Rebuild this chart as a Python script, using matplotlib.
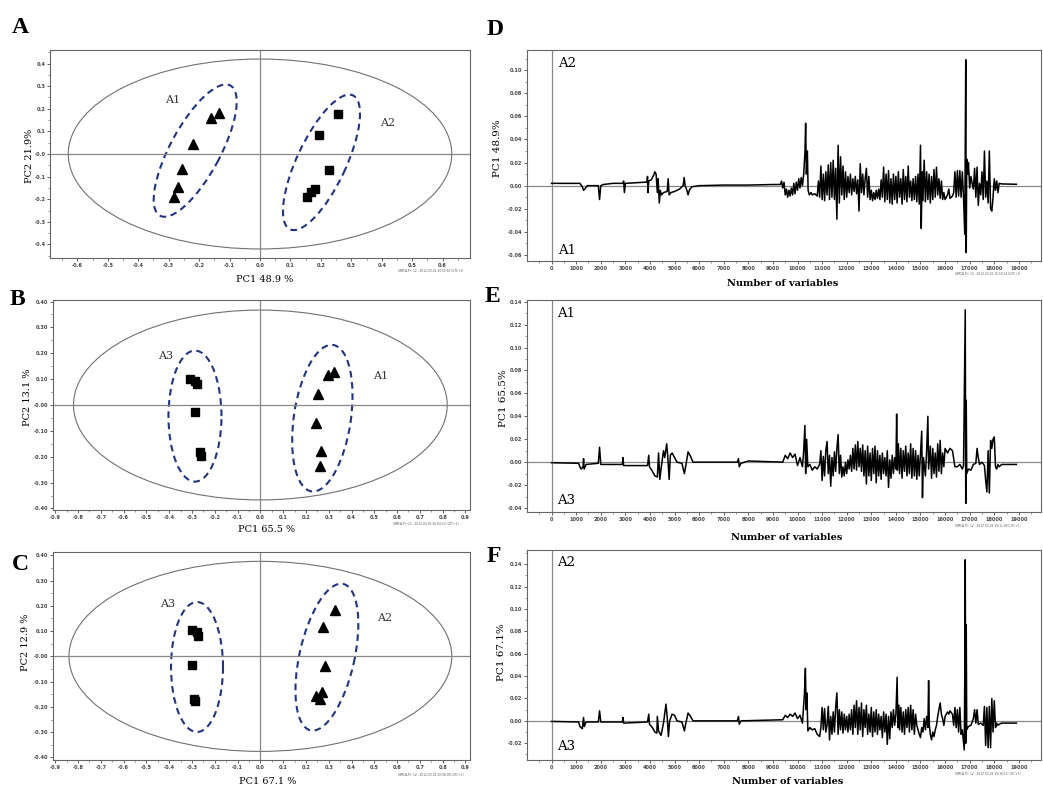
import matplotlib
matplotlib.use("Agg")
import matplotlib.pyplot as plt
from matplotlib.patches import Ellipse
from matplotlib.transforms import ScaledTranslation

W, H = 1043, 787

# ===============================
# Score plots (A, B, C)
# ===============================
a_tri_x = [-0.134, -0.162, -0.221, -0.257, -0.268, -0.284]
a_tri_y = [0.182, 0.160, 0.046, -0.067, -0.147, -0.191]
a_sq_x = [0.257, 0.193, 0.226, 0.180, 0.169, 0.155]
a_sq_y = [0.179, 0.084, -0.070, -0.154, -0.170, -0.191]
a_t2 = [0.63, 0.42]

b_sq_x = [-0.310, -0.287, -0.279, -0.287, -0.265, -0.262]
b_sq_y = [0.100, 0.092, 0.080, -0.028, -0.180, -0.198]
b_tri_x = [0.322, 0.298, 0.251, 0.246, 0.265, 0.261]
b_tri_y = [0.128, 0.115, 0.042, -0.070, -0.179, -0.236]
b_t2 = [0.82, 0.367]

c_sq_x = [-0.300, -0.278, -0.275, -0.300, -0.292, -0.289]
c_sq_y = [0.103, 0.096, 0.079, -0.036, -0.167, -0.178]
c_tri_x = [0.329, 0.275, 0.285, 0.270, 0.246, 0.260]
c_tri_y = [0.184, 0.118, -0.039, -0.141, -0.155, -0.170]
c_t2 = [0.84, 0.376]

a_xticks = [-0.6, -0.5, -0.4, -0.3, -0.2, -0.1, 0.0, 0.1, 0.2, 0.3, 0.4, 0.5, 0.6]
a_xlabels = ["-0.6", "-0.5", "-0.4", "-0.3", "-0.2", "-0.1", "0.0", "0.1", "0.2", "0.3", "0.4", "0.5", "0.6"]
a_yticks = [-0.4, -0.3, -0.2, -0.1, 0.0, 0.1, 0.2, 0.3, 0.4]
a_ylabels = ["-0.4", "-0.3", "-0.2", "-0.1", "-0.0", "0.1", "0.2", "0.3", "0.4"]
bc_xticks = [-0.9, -0.8, -0.7, -0.6, -0.5, -0.4, -0.3, -0.2, -0.1, 0.0,
             0.1, 0.2, 0.3, 0.4, 0.5, 0.6, 0.7, 0.8, 0.9]
bc_xlabels = ["-0.9", "-0.8", "-0.7", "-0.6", "-0.5", "-0.4", "-0.3", "-0.2", "-0.1", "0.0",
              "0.1", "0.2", "0.3", "0.4", "0.5", "0.6", "0.7", "0.8", "0.9"]
bc_yticks = [-0.4, -0.3, -0.2, -0.1, 0.0, 0.1, 0.2, 0.3, 0.4]
bc_ylabels = ["-0.40", "-0.30", "-0.20", "-0.10", "-0.00", "0.10", "0.20", "0.30", "0.40"]

# ===============================
# Loading plots (D, E, F)
# ===============================
d_x = [0, 1150, 1250, 1300, 1350, 1450, 1900, 1950, 2000, 2100, 2500, 2900, 2930, 2960, 3000,
       3800, 3880, 3900, 3920, 3950, 4050, 4150, 4200, 4250, 4300, 4330, 4380, 4420, 4470,
       4550, 4700, 4740, 4780, 4850, 5000, 5200, 5350, 5390, 5430, 5500, 5550, 5600, 5700,
       6000, 7000, 8000, 9000, 9300, 9350, 9400, 9450, 9500, 9550, 9600, 9650, 9700, 9750,
       9800, 9850, 9900, 9950, 10000, 10050, 10100, 10150, 10200, 10250, 10300, 10330, 10360,
       10400, 10430, 10480, 10550, 10600, 10700, 10800, 10850, 10900, 10950, 11000, 11050,
       11100, 11150, 11200, 11250, 11300, 11350, 11400, 11450, 11500, 11550, 11600, 11650,
       11700, 11750, 11800, 11850, 11900, 11950, 12000, 12050, 12100, 12150, 12200, 12250,
       12300, 12350, 12400, 12450, 12500, 12550, 12600, 12650, 12700, 12750, 12800, 12850,
       12900, 12950, 13000, 13050, 13100, 13150, 13200, 13250, 13300, 13350, 13400, 13450,
       13500, 13550, 13600, 13650, 13700, 13750, 13800, 13850, 13900, 13950, 14000, 14050,
       14100, 14150, 14200, 14250, 14300, 14350, 14400, 14450, 14500, 14550, 14600, 14650,
       14700, 14750, 14800, 14850, 14900, 14950, 15000, 15030, 15070, 15100, 15150, 15200,
       15250, 15300, 15350, 15400, 15450, 15500, 15550, 15600, 15650, 15700, 15750, 15800,
       15850, 15900, 15950, 16000, 16100, 16150, 16200, 16300, 16350, 16400, 16450, 16500,
       16550, 16600, 16650, 16700, 16750, 16800, 16820, 16840, 16860, 16880, 16920, 16950,
       17000, 17050, 17100, 17150, 17200, 17250, 17300, 17350, 17400, 17450, 17500, 17550,
       17600, 17650, 17700, 17750, 17800, 17850, 17900, 17950, 18000, 18050, 18100, 18150,
       18200, 18300, 18900]
d_y = [0.002, 0.002, -0.001, -0.004, -0.003, 0.0, 0.0, -0.012, 0.0, 0.001, 0.002, 0.002, 0.004, -0.006, 0.002,
       0.003, 0.003, 0.008, -0.006, 0.004, 0.005, 0.009, 0.012, 0.010, -0.006, 0.006, -0.015, -0.004, -0.008,
       -0.006, -0.005, 0.006, -0.008, -0.006, -0.005, -0.003, 0.0, 0.007, 0.0, -0.004, -0.008, -0.004, -0.001,
       0.0, 0.0005, 0.0005, 0.001, 0.001, 0.004, -0.002, 0.003, -0.008, -0.003, -0.010, -0.004, -0.009, -0.002,
       -0.008, 0.002, -0.007, 0.003, -0.004, 0.006, -0.002, 0.007, 0.0, 0.010, 0.028, 0.054, 0.010,
       0.030, -0.004, -0.008, -0.006, -0.008, -0.007, -0.009, 0.004, -0.010, 0.017, -0.012, 0.010,
       -0.013, 0.012, -0.008, 0.018, -0.012, 0.020, -0.010, 0.022, -0.012, 0.015, -0.029, 0.035,
       -0.015, 0.025, -0.008, 0.017, -0.012, 0.012, -0.010, 0.008, -0.006, 0.010, -0.008, 0.006,
       -0.005, 0.008, -0.007, 0.005, -0.022, 0.019, -0.006, 0.010, -0.008, 0.006, 0.015, -0.010,
       0.008, -0.012, -0.004, -0.013, -0.006, -0.012, -0.004, -0.011, -0.003, -0.012, 0.005, -0.010,
       0.016, -0.014, 0.010, -0.012, 0.013, -0.015, 0.006, -0.016, 0.010, -0.012, 0.008, -0.015,
       0.012, -0.010, 0.006, -0.016, 0.014, -0.012, 0.008, -0.014, 0.017, -0.010, 0.004, -0.013,
       0.006, -0.012, 0.008, -0.014, 0.010, -0.016, 0.035, -0.037, 0.012, -0.013, 0.022, -0.014,
       0.012, -0.012, 0.010, -0.015, 0.008, -0.012, 0.014, -0.010, 0.016, -0.008, 0.006, -0.011,
       0.004, -0.012, -0.006, -0.012, -0.008, -0.003, -0.011, -0.009, -0.006, 0.012, -0.010, 0.013,
       -0.009, 0.013, -0.010, 0.012, -0.010, -0.042, 0.032, 0.109, -0.058, 0.023, 0.010, 0.020,
       -0.002, 0.008, 0.002, -0.003, 0.015, -0.010, 0.016, -0.017, 0.002, -0.008, 0.012, -0.012,
       0.030, -0.010, 0.004, -0.015, 0.030, -0.020, -0.022, -0.010, 0.006, -0.004, 0.004, -0.006,
       0.002, 0.0015, 0.0012]

e_x = [0, 1100, 1150, 1200, 1280, 1300, 1320, 1400, 1900, 1950, 2000, 2500, 2880, 2900, 2930,
       3500, 3900, 3950, 3980, 4100, 4200, 4300, 4350, 4400, 4450, 4550, 4600, 4680, 4720, 4780,
       4830, 4900, 5000, 5100, 5300, 5400, 5450, 5550, 5650, 5750, 7000, 7550, 7600, 7630, 7700,
       8000, 9400, 9500, 9600, 9700, 9800, 9900, 10000, 10100, 10200, 10250, 10300, 10330, 10370,
       10420, 10500, 10600, 10700, 10800, 10900, 10950, 11000, 11050, 11100, 11150, 11200, 11250,
       11300, 11350, 11400, 11450, 11500, 11550, 11600, 11650, 11700, 11750, 11800, 11850, 11900,
       11950, 12000, 12050, 12100, 12150, 12200, 12250, 12300, 12350, 12400, 12450, 12500, 12550,
       12600, 12650, 12700, 12750, 12800, 12850, 12900, 12950, 13000, 13050, 13100, 13150, 13200,
       13250, 13300, 13350, 13400, 13450, 13500, 13550, 13600, 13650, 13700, 13750, 13800, 13850,
       13900, 13950, 14000, 14030, 14060, 14100, 14150, 14200, 14250, 14300, 14350, 14400, 14450,
       14500, 14550, 14600, 14650, 14700, 14750, 14800, 14850, 14900, 14950, 15000, 15050, 15080,
       15120, 15200, 15250, 15300, 15330, 15400, 15450, 15500, 15550, 15600, 15650, 15700, 15750,
       15800, 15850, 15900, 15950, 16000, 16100, 16200, 16300, 16400, 16500, 16600, 16700, 16750,
       16800, 16820, 16840, 16860, 16880, 16950, 17050, 17150, 17250, 17300, 17350, 17400, 17500,
       17600, 17650, 17700, 17750, 17800, 17850, 17900, 17950, 18000, 18050, 18100, 18150, 18200,
       18300, 18900]
e_y = [-0.0005, -0.001, -0.004, -0.006, -0.004, 0.003, -0.006, -0.002, -0.001, 0.013, -0.002, -0.002, -0.002, 0.004, -0.003,
       -0.003, -0.003, 0.006, -0.004, -0.008, -0.012, -0.013, 0.008, -0.015, -0.006, 0.010, 0.004, 0.016, 0.006, -0.015,
       0.006, 0.008, 0.004, 0.0, -0.001, -0.010, -0.004, 0.009, 0.005, 0.0, 0.0, 0.0, 0.003, -0.004, -0.001,
       0.001, 0.0, 0.006, 0.003, 0.008, 0.004, 0.007, -0.003, 0.004, -0.004, 0.010, 0.032, -0.010, 0.020,
       -0.004, -0.002, -0.007, -0.004, -0.006, -0.002, 0.010, -0.016, 0.005, -0.012, 0.010, 0.018, -0.010,
       0.006, -0.021, 0.004, -0.012, 0.009, -0.008, 0.012, 0.024, -0.010, 0.006, -0.013, -0.004, -0.012,
       0.0, -0.010, 0.002, -0.006, 0.006, -0.008, 0.012, -0.006, 0.015, -0.007, 0.018, -0.004, 0.012,
       -0.008, 0.015, -0.012, 0.010, -0.019, 0.014, -0.012, 0.008, -0.016, 0.012, -0.010, 0.014, -0.018,
       0.010, -0.012, 0.006, -0.015, 0.008, -0.010, 0.004, -0.012, 0.010, -0.022, 0.002, -0.014, 0.006,
       -0.010, 0.004, -0.006, 0.042, -0.007, 0.016, -0.010, 0.012, -0.014, 0.010, -0.008, 0.014, -0.012,
       0.008, -0.010, 0.016, -0.014, 0.012, -0.012, 0.010, -0.015, 0.006, -0.012, 0.008, 0.027, -0.031,
       0.004, -0.012, 0.010, 0.040, -0.006, 0.014, -0.014, 0.012, -0.010, 0.008, -0.013, 0.016, -0.008,
       0.019, -0.010, 0.008, -0.004, 0.012, 0.008, 0.012, 0.010, -0.004, -0.004, -0.002, -0.006, -0.003,
       0.091, 0.133, -0.036, 0.054, -0.010, -0.006, -0.007, -0.002, -0.001, 0.012, 0.004, -0.002, 0.0,
       -0.003, -0.016, -0.026, 0.010, -0.027, 0.019, 0.012, 0.020, 0.022, -0.004, -0.006, -0.002, -0.004,
       -0.002, -0.002]

f_x = [0, 1100, 1150, 1250, 1300, 1330, 1400, 1900, 1950, 2000, 2880, 2900, 2930, 3900, 3950,
       3980, 4100, 4200, 4280, 4300, 4350, 4450, 4550, 4650, 4700, 4750, 4800, 4900, 5000, 5100,
       5300, 5400, 5450, 5550, 5650, 5750, 7550, 7600, 7630, 7700, 9400, 9500, 9600, 9700, 9800,
       9900, 10000, 10100, 10200, 10280, 10320, 10350, 10380, 10420, 10500, 10600, 10700, 10800,
       10900, 10950, 11000, 11050, 11100, 11150, 11200, 11250, 11300, 11350, 11400, 11450, 11500,
       11550, 11600, 11650, 11700, 11750, 11800, 11850, 11900, 11950, 12000, 12050, 12100, 12150,
       12200, 12250, 12300, 12350, 12400, 12450, 12500, 12550, 12600, 12650, 12700, 12750, 12800,
       12850, 12900, 12950, 13000, 13050, 13100, 13150, 13200, 13250, 13300, 13350, 13400, 13450,
       13500, 13550, 13600, 13650, 13700, 13750, 13800, 13850, 13900, 13950, 14000, 14050, 14080,
       14120, 14150, 14200, 14250, 14300, 14350, 14400, 14450, 14500, 14550, 14600, 14650, 14700,
       14750, 14800, 14850, 14900, 14950, 15000, 15050, 15100, 15150, 15200, 15250, 15300, 15330,
       15360, 15400, 15450, 15500, 15550, 15600, 15650, 15700, 15750, 15800, 15850, 15900, 15950,
       16000, 16100, 16150, 16200, 16300, 16350, 16400, 16450, 16500, 16550, 16600, 16650, 16700,
       16780, 16800, 16820, 16840, 16860, 16880, 16950, 17050, 17150, 17200, 17250, 17300, 17350,
       17450, 17550, 17600, 17650, 17700, 17750, 17800, 17850, 17900, 17950, 18000, 18050, 18100,
       18150, 18200, 18300, 18900]
f_y = [-0.0005, -0.001, -0.005, -0.007, 0.003, -0.005, -0.001, -0.001, 0.009, -0.001, -0.001, 0.003, -0.002, -0.001, 0.006,
       -0.003, -0.006, -0.010, -0.011, 0.004, -0.009, -0.013, -0.002, 0.015, 0.004, -0.014, 0.0, 0.006, 0.005, 0.0,
       -0.001, -0.009, -0.003, 0.007, 0.004, 0.0, 0.0, 0.004, -0.003, 0.0, 0.001, 0.005, 0.003, 0.006, 0.004,
       0.007, 0.002, 0.005, -0.002, 0.024, 0.047, 0.010, 0.025, -0.009, -0.006, -0.008, -0.007, -0.012,
       -0.014, -0.006, 0.012, -0.008, 0.011, -0.010, -0.004, 0.013, -0.017, 0.004, -0.012, 0.008, -0.010,
       0.012, 0.025, -0.012, 0.010, -0.008, 0.008, -0.011, 0.006, -0.008, 0.004, -0.010, 0.006, -0.008,
       0.010, -0.012, 0.014, -0.006, 0.018, -0.012, 0.012, -0.008, 0.016, -0.014, 0.010, -0.006, 0.014,
       -0.012, 0.006, -0.010, 0.012, -0.014, 0.008, -0.010, 0.010, -0.012, 0.006, -0.008, 0.004, -0.015,
       0.008, -0.010, 0.006, -0.021, 0.004, -0.016, 0.008, -0.006, 0.010, -0.004, 0.006, 0.039, -0.006,
       0.014, -0.008, 0.012, -0.010, 0.008, -0.012, 0.010, -0.006, 0.012, -0.010, 0.014, -0.008, 0.010,
       -0.012, 0.006, -0.004, -0.008, -0.012, -0.015, -0.006, -0.010, 0.002, -0.008, 0.004, -0.006, 0.036,
       -0.004, -0.012, -0.017, -0.010, -0.014, -0.008, -0.004, 0.004, 0.010, 0.016, 0.006, 0.002, -0.004,
       0.004, 0.008, 0.006, 0.009, 0.006, -0.004, 0.012, -0.006, 0.010, -0.010, 0.012, -0.012, -0.008,
       -0.026, 0.038, 0.144, -0.020, 0.086, -0.008, -0.005, -0.004, 0.002, 0.010, -0.002, 0.010, -0.003,
       -0.002, -0.004, 0.013, -0.022, 0.012, -0.024, 0.013, -0.024, 0.020, -0.010, 0.018, -0.006, -0.002,
       -0.004, -0.003, -0.002, -0.002]

load_xticks = list(range(0, 20000, 1000))
load_xlabels = [str(v) for v in load_xticks]
d_yticks = [-0.06, -0.04, -0.02, 0.0, 0.02, 0.04, 0.06, 0.08, 0.10]
d_ylabels = ["-0.06", "-0.04", "-0.02", "0.00", "0.02", "0.04", "0.06", "0.08", "0.10"]
e_yticks = [-0.04, -0.02, 0.0, 0.02, 0.04, 0.06, 0.08, 0.10, 0.12, 0.14]
e_ylabels = ["-0.04", "-0.02", "0.00", "0.02", "0.04", "0.06", "0.08", "0.10", "0.12", "0.14"]
f_yticks = [-0.02, 0.0, 0.02, 0.04, 0.06, 0.08, 0.10, 0.12, 0.14]
f_ylabels = ["-0.02", "0.00", "0.02", "0.04", "0.06", "0.08", "0.10", "0.12", "0.14"]

SERIF = "DejaVu Serif"
GROUP_BLUE = "#22347f"


def rect(l, t, r, b):
    return [l / W, 1 - b / H, (r - l) / W, (b - t) / H]


def ftext(x, y, s, **kw):
    fig.text(x / W, 1 - y / H, s, **kw)


def style(ax, xticks, xlabels, yticks, ylabels, xminor, yminor):
    for sp in ax.spines.values():
        sp.set_color("#666666")
        sp.set_linewidth(0.8)
    ax.set_xticks(xticks)
    ax.set_xticklabels(xlabels)
    ax.set_yticks(yticks)
    ax.set_yticklabels(ylabels)
    ax.set_xticks(xminor, minor=True)
    ax.set_yticks(yminor, minor=True)
    ax.tick_params(which="major", direction="out", length=2.2, width=0.6,
                   labelsize=3.6, pad=1.2, colors="#444444")
    ax.tick_params(which="minor", direction="out", length=1.4, width=0.5, colors="#666666")
    for lbl in ax.get_xticklabels() + ax.get_yticklabels():
        lbl.set_fontweight("bold")


def group_ellipse(ax, cx, cy, w_in, h_in, angle):
    # ellipse sized in inches, centred on a data point
    tr = fig.dpi_scale_trans + ScaledTranslation(cx, cy, ax.transData)
    ax.add_patch(Ellipse((0, 0), w_in, h_in, angle=angle, transform=tr, fill=False,
                         edgecolor=GROUP_BLUE, linewidth=1.5, linestyle=(0, (3.2, 2.2))))


def score_plot(ax, t2, tri_x, tri_y, sq_x, sq_y, xlim, ylim):
    ax.axhline(0, color="#888888", lw=0.9)
    ax.axvline(0, color="#888888", lw=0.9)
    ax.add_patch(Ellipse((0, 0), 2 * t2[0], 2 * t2[1], fill=False,
                         edgecolor="#707070", linewidth=0.8))
    ax.plot(tri_x, tri_y, "^", color="black", markersize=7.5, linestyle="none")
    ax.plot(sq_x, sq_y, "s", color="black", markersize=6, linestyle="none")
    ax.set_xlim(*xlim)
    ax.set_ylim(*ylim)


def loading_plot(ax, x, y, ylim):
    ax.axhline(0, color="#888888", lw=0.9)
    ax.axvline(0, color="#888888", lw=0.9)
    ax.plot(x, y, color="black", linewidth=1.1)
    ax.set_xlim(-1000, 19900)
    ax.set_ylim(*ylim)


def simca(x, y, s):
    ftext(x, y, s, fontsize=2.1, color="#555555", va="center")


fig = plt.figure(figsize=(W / 100, H / 100), dpi=100)

# ---- A ----
ax = fig.add_axes(rect(50, 50, 470, 258))
score_plot(ax, a_t2, a_tri_x, a_tri_y, a_sq_x, a_sq_y, (-0.69, 0.69), (-0.46, 0.46))
style(ax, a_xticks, a_xlabels, a_yticks, a_ylabels,
      [v / 100 for v in range(-65, 70, 10)], [v / 100 for v in range(-45, 50, 10)])
group_ellipse(ax, -0.213, 0.015, 1.48, 0.50, 61.6)
group_ellipse(ax, 0.202, -0.037, 1.48, 0.49, 64.8)
ax.text(-0.311, 0.224, "A1", family=SERIF, fontsize=8, color="#333333")
ax.text(0.393, 0.123, "A2", family=SERIF, fontsize=8, color="#333333")
ftext(265, 279, "PC1 48.9 %", family=SERIF, fontsize=7, ha="center", va="center")
ftext(29, 156, "PC2 21.9%", family=SERIF, fontsize=7, ha="center", va="center", rotation=90)
simca(398, 271, "SIMCA-P+ 12 - 2012-03-01 20:55:56 (UTC+1)")

# ---- B ----
ax = fig.add_axes(rect(53, 300, 470, 510))
score_plot(ax, b_t2, b_tri_x, b_tri_y, b_sq_x, b_sq_y, (-0.91, 0.92), (-0.406, 0.406))
style(ax, bc_xticks, bc_xlabels, bc_yticks, bc_ylabels,
      [v / 100 for v in range(-85, 90, 10)], [v / 100 for v in range(-35, 40, 10)])
group_ellipse(ax, -0.287, -0.043, 1.31, 0.53, 90)
group_ellipse(ax, 0.272, -0.051, 1.48, 0.57, 81.6)
ax.text(-0.451, 0.179, "A3", family=SERIF, fontsize=8, color="#333333")
ax.text(0.494, 0.102, "A1", family=SERIF, fontsize=8, color="#333333")
ftext(267, 530, "PC1 65.5 %", family=SERIF, fontsize=7, ha="center", va="center")
ftext(27, 397, "PC2 13.1 %", family=SERIF, fontsize=7, ha="center", va="center", rotation=90)
simca(393, 524, "SIMCA-P+ 12 - 2012-03-01 20:04:23 (UTC+1)")

# ---- C ----
ax = fig.add_axes(rect(53, 552, 470, 760))
score_plot(ax, c_t2, c_tri_x, c_tri_y, c_sq_x, c_sq_y, (-0.91, 0.92), (-0.41, 0.413))
style(ax, bc_xticks, bc_xlabels, bc_yticks, bc_ylabels,
      [v / 100 for v in range(-85, 90, 10)], [v / 100 for v in range(-35, 40, 10)])
group_ellipse(ax, -0.278, -0.042, 1.30, 0.52, 90)
group_ellipse(ax, 0.292, -0.003, 1.50, 0.55, 77.4)
ax.text(-0.439, 0.197, "A3", family=SERIF, fontsize=8, color="#333333")
ax.text(0.512, 0.139, "A2", family=SERIF, fontsize=8, color="#333333")
ftext(268, 781, "PC1 67.1 %", family=SERIF, fontsize=7, ha="center", va="center")
ftext(26, 642, "PC2 12.9 %", family=SERIF, fontsize=7, ha="center", va="center", rotation=90)
simca(398, 775, "SIMCA-P+ 12 - 2012-03-01 20:08:08 (UTC+1)")

# ---- D ----
load_minor = list(range(-500, 19900, 500))
ax = fig.add_axes(rect(527, 50, 1041, 261))
loading_plot(ax, d_x, d_y, (-0.0652, 0.1174))
style(ax, load_xticks, load_xlabels, d_yticks, d_ylabels,
      load_minor, [v / 100 for v in range(-6, 12)])
ax.text(0.06, 0.965, "A2", transform=ax.transAxes, family=SERIF, fontsize=9.5, va="top")
ax.text(0.06, 0.02, "A1", transform=ax.transAxes, family=SERIF, fontsize=9.5, va="bottom")
ftext(783, 284, "Number of variables", family=SERIF, fontsize=7, weight="bold", ha="center", va="center")
ftext(497, 148, "PC1 48.9%", family=SERIF, fontsize=7.5, ha="center", va="center", rotation=90)
simca(955, 274, "SIMCA-P+ 12 - 2012-03-01 15:59:14 (UTC+1)")

# ---- E ----
ax = fig.add_axes(rect(527, 300, 1041, 512))
loading_plot(ax, e_x, e_y, (-0.0435, 0.1415))
style(ax, load_xticks, load_xlabels, e_yticks, e_ylabels,
      load_minor, [v / 100 for v in range(-4, 15)])
ax.text(0.058, 0.967, "A1", transform=ax.transAxes, family=SERIF, fontsize=9.5, va="top")
ax.text(0.058, 0.024, "A3", transform=ax.transAxes, family=SERIF, fontsize=9.5, va="bottom")
ftext(787, 537, "Number of variables", family=SERIF, fontsize=7, weight="bold", ha="center", va="center")
ftext(503, 398, "PC1 65.5%", family=SERIF, fontsize=7.5, ha="center", va="center", rotation=90)
simca(955, 526, "SIMCA-P+ 12 - 2012-03-01 16:11:09 (UTC+1)")

# ---- F ----
ax = fig.add_axes(rect(527, 550, 1041, 760))
loading_plot(ax, f_x, f_y, (-0.035, 0.1528))
style(ax, load_xticks, load_xlabels, f_yticks, f_ylabels,
      load_minor, [v / 100 for v in range(-3, 16)])
ax.text(0.058, 0.971, "A2", transform=ax.transAxes, family=SERIF, fontsize=9.5, va="top")
ax.text(0.058, 0.033, "A3", transform=ax.transAxes, family=SERIF, fontsize=9.5, va="bottom")
ftext(788, 782, "Number of variables", family=SERIF, fontsize=7, weight="bold", ha="center", va="center")
ftext(501, 652, "PC1 67.1%", family=SERIF, fontsize=7.5, ha="center", va="center", rotation=90)
simca(955, 774, "SIMCA-P+ 12 - 2012-03-01 16:16:12 (UTC+1)")

# panel letters
for letter, (lx, ly) in {"A": (12, 33), "B": (10, 305), "C": (12, 570),
                         "D": (487, 35), "E": (485, 302), "F": (487, 562)}.items():
    ftext(lx, ly, letter, family="Liberation Serif", fontsize=17, weight="bold", va="baseline")

fig.savefig("out.png", dpi=100)
